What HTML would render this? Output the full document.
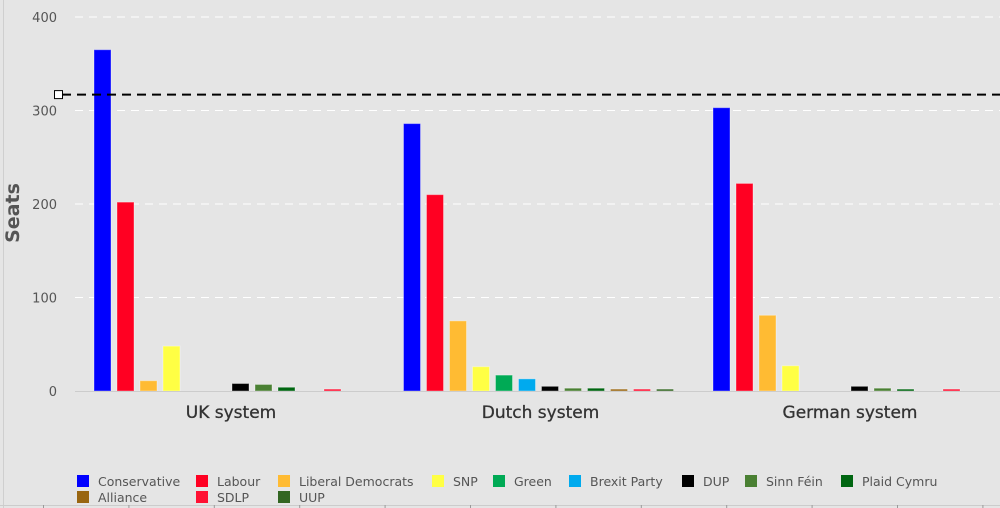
<!DOCTYPE html>
<html><head><meta charset="utf-8"><style>
body{margin:0;background:#e5e5e5;}
svg{display:block;font-family:"DejaVu Sans","Liberation Sans",sans-serif;}
</style></head><body>
<svg id="chart" width="1000" height="508">
<rect x="0" y="0" width="1000" height="508" fill="#e5e5e5"/>
<line x1="3.5" y1="0" x2="3.5" y2="508" stroke="#cfcfcf"/>
<g id="grid"></g><g id="bars"></g><g id="axes"></g><g id="legend"></g>
</svg>
<script>
const categories=["UK system","Dutch system","German system"];
const parties=["Conservative","Labour","Liberal Democrats","SNP","Green","Brexit Party","DUP","Sinn Féin","Plaid Cymru","Alliance","SDLP","UUP"];
const colors=["#0000ff","#ff0022","#ffbb33","#ffff44","#00aa55","#00aaee","#000000","#4a8033","#006611","#996611","#ff1133","#336622"];
const ukSeats=[365,202,11,48,0,0,8,7,4,0,2,0];
const dutchSeats=[286,210,75,26,17,13,5,3,3,2,2,2];
const germanSeats=[303,222,81,27,0,0,5,3,2,0,2,0];
const seriesByCat=[ukSeats,dutchSeats,germanSeats];
const yTicks=[0,100,200,300,400];
const majority=317;
const NS="http://www.w3.org/2000/svg";
function mk(t,a,p){const e=document.createElementNS(NS,t);for(const k in a)e.setAttribute(k,a[k]);p.appendChild(e);return e;}
const y0=391,yScale=(391-17)/400;
function Y(v){return y0-v*yScale;}
const plotL=75,plotR=1000,groupW=309.5,firstBar=94,step=23,barW=17;
function X(ci,pi){return firstBar+ci*groupW+pi*step;}
const grid=document.getElementById('grid'),bars=document.getElementById('bars'),axes=document.getElementById('axes'),leg=document.getElementById('legend');
yTicks.forEach(t=>{
 if(t>0){const l=mk('line',{x1:plotL,x2:plotR,y1:Y(t),y2:Y(t),stroke:'#ffffff','stroke-dasharray':'8,6','stroke-width':1},grid);
 
 }
 const tx=mk('text',{x:57,y:Y(t)+5,'text-anchor':'end','font-size':13,fill:'#555'},axes);tx.textContent=t;
 
 
});
const al=mk('line',{x1:plotL,x2:plotR,y1:y0+0.5,y2:y0+0.5,stroke:'#cccccc','stroke-width':1},axes);


seriesByCat.forEach((vals,ci)=>{
 vals.forEach((v,pi)=>{
  if(v<=0)return;
  const r=mk('rect',{x:X(ci,pi),y:Y(v),width:barW,height:y0-Y(v),fill:colors[pi],stroke:'rgba(255,255,255,0.35)','stroke-width':1},bars);
  
  
 });
 const t=mk('text',{x:firstBar+ci*groupW+137,y:418,'text-anchor':'middle','font-size':17,fill:'#333','stroke':'#333','stroke-width':0.3},axes);t.textContent=categories[ci];
 
 
});
const ml=mk('line',{x1:62,x2:1000,y1:Y(majority),y2:Y(majority),stroke:'#000','stroke-width':2,'stroke-dasharray':'9,6'},axes);


const mm=mk('rect',{x:54.5,y:Y(majority)-4,width:8,height:8,fill:'#fff',stroke:'#000','stroke-width':1},axes);


const yt=mk('text',{x:0,y:0,transform:'translate(19,213) rotate(-90)','text-anchor':'middle','font-size':19,'font-weight':'bold',fill:'#555'},axes);yt.textContent='Seats';


const legX=[77,196,278,432,493,569,682,745,841,77,196,278];
const legY=[481,481,481,481,481,481,481,481,481,497,497,497];
parties.forEach((p,i)=>{
 const g=mk('g',{},leg);
 
 
 mk('rect',{x:legX[i],y:legY[i]-6,width:12,height:12,fill:colors[i]},g);
 const t=mk('text',{x:legX[i]+21,y:legY[i]+5,'font-size':12.5,fill:'#555'},g);t.textContent=p;
});
mk('line',{x1:0,x2:1000,y1:505.5,y2:505.5,stroke:'#cccccc'},axes);
for(let i=0;i<12;i++){mk('line',{x1:43.5+i*85.4,x2:43.5+i*85.4,y1:505,y2:508,stroke:'#999'},axes);}
</script>
</body></html>
